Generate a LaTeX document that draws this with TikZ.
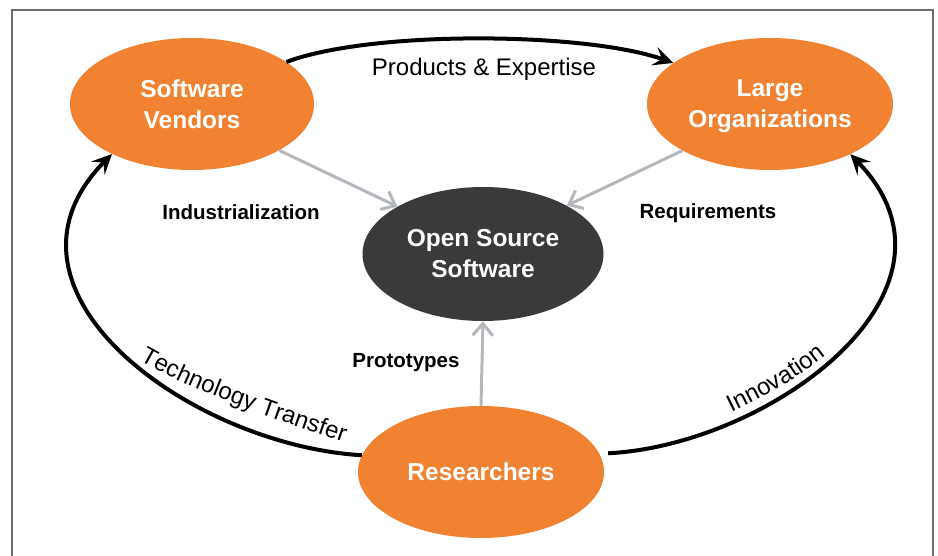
\documentclass[tikz,border=0pt]{standalone}
\usepackage{fontspec}
\setmainfont{Liberation Sans}
\usetikzlibrary{arrows.meta,shapes.geometric,decorations.text}
\definecolor{orng}{RGB}{240,130,50}
\definecolor{darkg}{RGB}{58,58,60}
\definecolor{lgray}{RGB}{180,184,188}
\definecolor{framec}{RGB}{110,110,110}
\begin{document}
\begin{tikzpicture}[x=1pt,y=-1pt,
  blob/.style={ellipse, fill=orng, text=white, align=center, inner sep=0pt,
    font=\fontsize{24.5}{31}\selectfont\bfseries},
  blk/.style={line width=4pt, -{Stealth[length=20pt,width=19pt,inset=8pt]}},
  gry/.style={draw=lgray, line width=3pt, -{Straight Barb[length=12pt,width=20pt]}},
  lbl/.style={font=\fontsize{24}{28}\selectfont, inner sep=0pt},
  blbl/.style={font=\fontsize{20.5}{24}\selectfont\bfseries, inner sep=0pt}]
\useasboundingbox (0,0) rectangle (938,556);
\fill[white] (0,0) rectangle (938,556);
\draw[framec, line width=1.2pt] (12,556) -- (12,10) -- (933,10) -- (933,556);

\node[blob, minimum width=244pt, minimum height=132pt] (sv) at (192,104) {Software\\Vendors};
\node[blob, minimum width=246pt, minimum height=132pt] (lo) at (770,104) {Large\\\raisebox{0pt}[\height][0pt]{Organizations}};
\node[blob, fill=darkg, minimum width=241pt, minimum height=134pt] (oss) at (483,254) {Open Source\\Software};
\node[blob, minimum width=246pt, minimum height=132pt] (res) at (481,472) {Researchers};

\draw[blk] (sv.24) .. controls +(85,-32) and +(-88,-31) .. (lo.157);
\draw[blk] (res.172) .. controls (190,445) and (-22,290) .. (sv.212);
\draw[blk] ([xshift=9pt]res.9) .. controls (770,445) and (982,290) .. (lo.-32);

\draw[gry] (sv.-28) -- (oss.151);
\draw[gry] (lo.208) -- (oss.30);
\draw[gry] (res.north) -- (oss.south);

\node[lbl, anchor=base] (pe) at (484,76) {Products \& Expertise};
\node[blbl, anchor=base] (ind) at (241,220) {Industrialization};
\node[blbl, anchor=base] (req) at (708,219) {Requirements};
\node[blbl, anchor=base] (pro) at (406,367) {Prototypes};

\path[decorate, decoration={text along path, text align=center,
  text={|\fontsize{24}{28}\selectfont|Technology Transfer}}]
  (130,355) .. controls (190,392) and (279,420) .. (354,446);
\path[decorate, decoration={text along path, text align=center,
  text={|\fontsize{24}{28}\selectfont|Innovation}}]
  (722,417) .. controls (760,399) and (800,378) .. (834,349);
\end{tikzpicture}
\end{document}
